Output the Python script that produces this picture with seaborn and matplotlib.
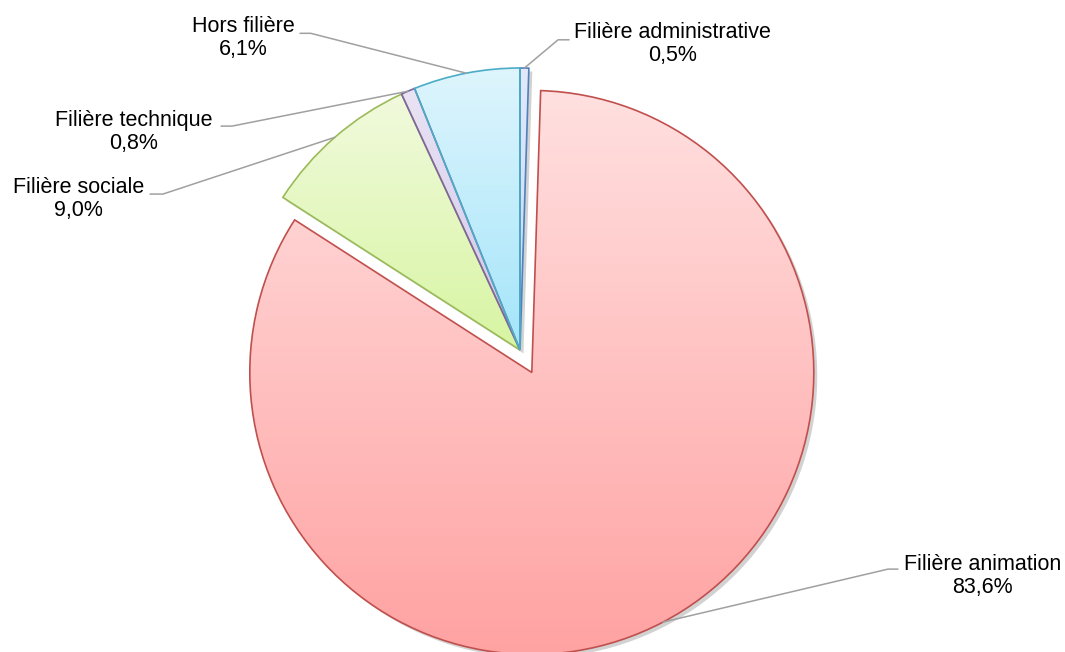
import numpy as np
import matplotlib
matplotlib.use("Agg")
import matplotlib.pyplot as plt
import matplotlib.patheffects as pe
from matplotlib.colors import LinearSegmentedColormap
from matplotlib.patches import Wedge
import seaborn as sns

# data
categories = ["Filière administrative", "Filière animation", "Filière sociale",
              "Filière technique", "Hors filière"]
values = [0.5, 83.6, 9.0, 0.8, 6.1]
pct_labels = ["0,5%", "83,6%", "9,0%", "0,8%", "6,1%"]

# style
edge_colors = sns.color_palette(["#4F81BD", "#C0504D", "#9BBB59", "#8064A2", "#4BACC6"])
top_colors = ["#E2EAFA", "#FFE0E0", "#F1FADD", "#E9E3F4", "#DEF5FD"]
bottom_colors = ["#C6D6F3", "#FFA2A2", "#D7F5A2", "#D2C6EA", "#A4E5FA"]
explode = [0, 0.09, 0, 0, 0]

# label layout (data units, pie radius = 1)
text_pos = [(0.54, 1.085), (1.64, -0.80), (-1.565, 0.535), (-1.37, 0.773), (-0.98, 1.106)]
elbow = [(0.135, 1.10), (1.305, -0.777), (-1.266, 0.553), (-1.021, 0.794), (-0.742, 1.123)]
hook = [(0.174, 1.10), (1.34, -0.777), (-1.312, 0.553), (-1.06, 0.794), (-0.78, 1.123)]

sns.set_theme(style="white")
plt.rcParams['font.family'] = ['Liberation Sans', 'DejaVu Sans']

fig = plt.figure(figsize=(10.65, 6.52), dpi=100)
ax = fig.add_axes([0, 0, 1, 1])

wedges, _ = ax.pie(values, startangle=90, counterclock=False, radius=1,
                   explode=explode, colors=bottom_colors,
                   wedgeprops=dict(linewidth=0))

grad = np.linspace(0, 1, 256).reshape(-1, 1)
for i, w in enumerate(wedges):
    w.set_zorder(1)
    w.set_path_effects([pe.SimplePatchShadow(offset=(2.5, -2.5), shadow_rgbFace="#808080", alpha=0.35),
                        pe.Normal()])
    verts = w.get_path().vertices
    x0, x1 = verts[:, 0].min(), verts[:, 0].max()
    y0, y1 = verts[:, 1].min(), verts[:, 1].max()
    cmap = LinearSegmentedColormap.from_list("g%d" % i, [top_colors[i], bottom_colors[i]])
    # light at the top, stronger at the bottom of each slice
    im = ax.imshow(grad, cmap=cmap, extent=(x0, x1, y0, y1), aspect="auto",
                   interpolation="bilinear", origin="upper", zorder=2)
    im.set_clip_path(w)
    outline = Wedge(w.center, w.r, w.theta1, w.theta2, fill=False,
                    edgecolor=edge_colors[i], linewidth=1.2, zorder=3)
    ax.add_patch(outline)

    # leader line from wedge mid-angle
    mid = np.deg2rad((w.theta1 + w.theta2) / 2)
    ax_pt = (w.center[0] + w.r * np.cos(mid), w.center[1] + w.r * np.sin(mid))
    ax.plot([ax_pt[0], elbow[i][0], hook[i][0]], [ax_pt[1], elbow[i][1], hook[i][1]],
            color="#A0A0A0", linewidth=1.1, zorder=4)
    ax.text(text_pos[i][0], text_pos[i][1], categories[i] + "\n" + pct_labels[i],
            ha="center", va="center", fontsize=15.5, linespacing=1.12,
            color="#000000", zorder=5)

ax.set_xlim(-520 / 282, 545 / 282)
ax.set_ylim(-302 / 282, 350 / 282)
ax.set_aspect("auto")
ax.axis("off")

fig.savefig("out.png", dpi=100)
